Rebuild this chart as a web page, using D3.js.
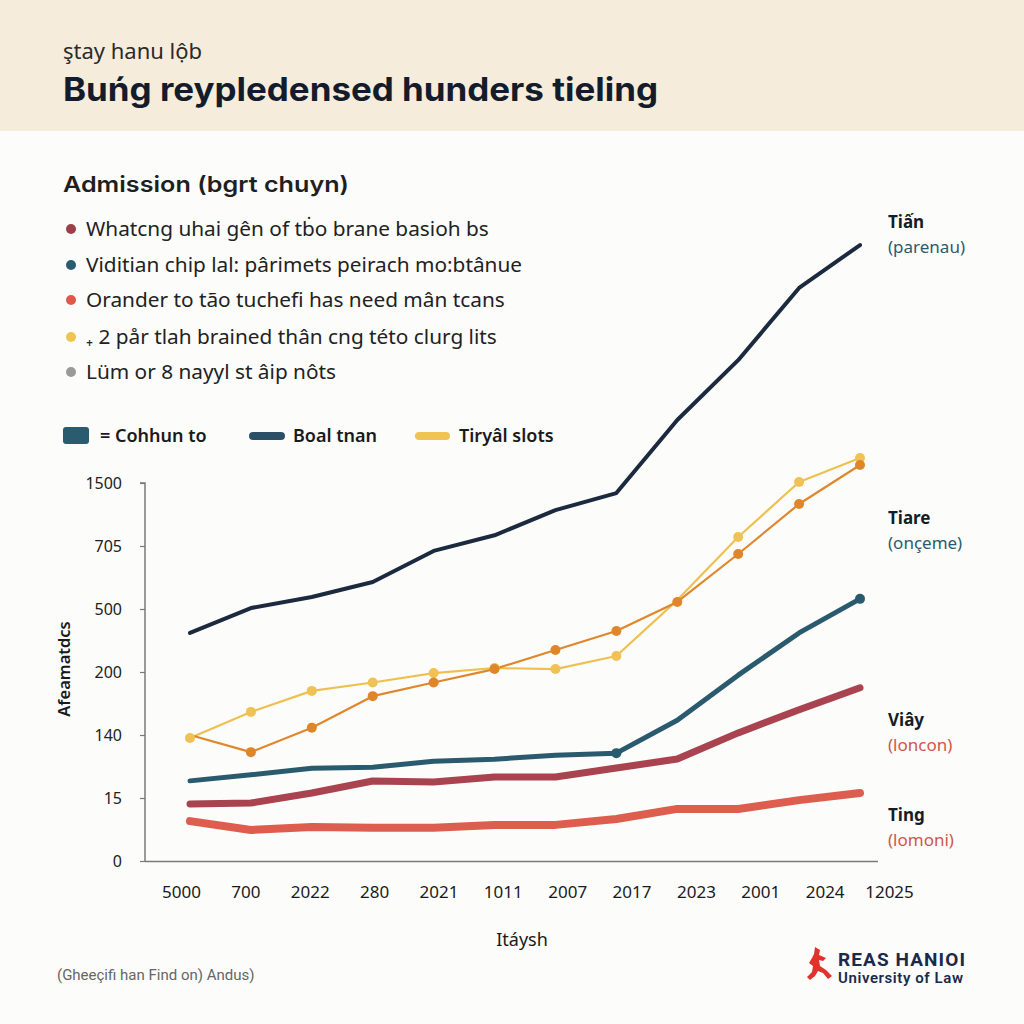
<!DOCTYPE html>
<html><head><meta charset="utf-8">
<script src="https://cdn.jsdelivr.net/npm/d3@7"></script>
<style>
html,body{margin:0;padding:0;background:#fcfcfb;}
svg{display:block;font-family:"Noto Sans","Open Sans",sans-serif;}
</style></head>
<body><svg id="c" width="1024" height="1024"></svg>
<script>
// ---- data ----
const categories = ["5000","700","2022","280","2021","1011","2007","2017","2023","2001","2024","12025"];
const yTickValues = [0, 15, 140, 200, 500, 705, 1500];
const seriesTian   = [386, 503, 539, 588, 689, 840, 1158, 1373, 2295, 3050, 3961, 4503];
const seriesYellow = [134, 162, 182, 190, 199, 219, 214, 276, 529, 819, 1513, 1816];
const seriesOrange = [140, 106, 147, 177, 190, 214, 305, 395, 523, 679, 1235, 1727];
const seriesTeal   = [49, 61, 74, 76, 88, 92, 100, 104, 154, 197, 386, 533];
const seriesMaroon = [13.6, 13.8, 24.9, 48.8, 46.7, 56.7, 56.7, 74.5, 92.4, 142, 164, 185];
const seriesRed    = [9.5, 7.4, 8.1, 7.9, 7.9, 8.6, 8.6, 10, 12.4, 12.4, 14.5, 24.9];
const bulletItems = ["Whatcng uhai gên of tḃo brane basioh bs","Viditian chip lal: pârimets peirach mo:btânue","Orander to tão tuchefi has need mân tcans","₊ 2 pår tlah brained thân cng této clurg lits","Lüm or 8 nayyl st âip nôts"];
const legendItems = ["= Cohhun to","Boal tnan","Tiryâl slots"];
const rightLabels = [["Tiấn","(parenau)"],["Tiare","(onçeme)"],["Viây","(loncon)"],["Ting","(lomoni)"]];

const svg = d3.select("#c");
// header band
svg.append("rect").attr("x",0).attr("y",0).attr("width",1024).attr("height",131).attr("fill","#f5ecdc");
svg.append("text").attr("x",63).attr("y",59).attr("font-size",22).attr("fill","#2a2a2a").text("ştay hanu lộb");
svg.append("text").attr("x",63).attr("y",101).attr("font-size",32).attr("font-weight",700).attr("fill","#141c2b")
  .attr("font-family","Inter, Noto Sans, sans-serif").attr("textLength",595).attr("lengthAdjust","spacingAndGlyphs").text("Buńg reypledensed hunders tieling");

svg.append("text").attr("x",63).attr("y",192).attr("font-size",22).attr("font-weight",600).attr("fill","#1f1f1f")
  .attr("font-family","Inter, Noto Sans, sans-serif").attr("textLength",286).attr("lengthAdjust","spacingAndGlyphs").text("Admission (bgrt chuyn)");

const bulletColors = ["#9b3f48","#2b5b6e","#e0584a","#f0c452","#9a9a9a"];
const bulletY = [229,265,300,337,372];
bulletItems.forEach((t,i)=>{
  svg.append("circle").attr("cx",71).attr("cy",bulletY[i]).attr("r",5).attr("fill",bulletColors[i]);
  svg.append("text").attr("x",86).attr("y",bulletY[i]+7).attr("font-size",20.8).attr("fill","#222").text(t);
});

// legend row
svg.append("rect").attr("x",63).attr("y",427).attr("width",26).attr("height",17).attr("rx",3).attr("fill","#2b5b6e");
svg.append("text").attr("x",100).attr("y",442).attr("font-size",18).attr("font-weight",600).attr("fill","#1a1a1a").text(legendItems[0]);
svg.append("line").attr("x1",253).attr("x2",281).attr("y1",436).attr("y2",436).attr("stroke","#2b5066").attr("stroke-width",8).attr("stroke-linecap","round");
svg.append("text").attr("x",293).attr("y",442).attr("font-size",18).attr("font-weight",600).attr("fill","#1a1a1a").text(legendItems[1]);
svg.append("line").attr("x1",419).attr("x2",446).attr("y1",436).attr("y2",436).attr("stroke","#f0c452").attr("stroke-width",8).attr("stroke-linecap","round");
svg.append("text").attr("x",459).attr("y",442).attr("font-size",18).attr("font-weight",600).attr("fill","#1a1a1a").text(legendItems[2]);

// scales
const y = d3.scaleLinear().domain(yTickValues).range(yTickValues.map((d,i)=>861-63*i));
const x = d3.scalePoint().domain(categories).range([190,860]);
const xLab = d3.scalePoint().domain(categories).range([181,889]);

// y axis
const yAxis = svg.append("g").attr("transform","translate(145,0)")
  .call(d3.axisLeft(y).tickValues(yTickValues).tickFormat(d3.format("d")).tickSize(5).tickPadding(18));
yAxis.select(".domain").attr("stroke","#7a7a7a").attr("stroke-width",1.5).attr("d","M-5,483H0V861");
yAxis.selectAll(".tick line").attr("stroke","#7a7a7a").attr("stroke-width",1.2);
yAxis.selectAll(".tick text").attr("font-size",16).attr("fill","#222").attr("font-family","Noto Sans, sans-serif");

// x axis
svg.append("line").attr("x1",145).attr("x2",878).attr("y1",861.5).attr("y2",861.5).attr("stroke","#7a7a7a").attr("stroke-width",1.5);
const xAxis = svg.append("g").attr("transform","translate(0,861)")
  .call(d3.axisBottom(xLab).tickSize(0).tickPadding(25));
xAxis.select(".domain").remove();
xAxis.selectAll(".tick text").attr("font-size",17).attr("fill","#1a1a1a").attr("font-family","Noto Sans, sans-serif");

svg.append("text").attr("x",522).attr("y",946).attr("text-anchor","middle").attr("font-size",18).attr("fill","#1a1a1a").text("Itáysh");
svg.append("text").attr("transform","translate(70,669) rotate(-90)").attr("text-anchor","middle").attr("font-size",16.5).attr("font-weight",600).attr("fill","#1a1a1a").text("Afeamatdcs");

// lines
const line = d3.line().x((d,i)=>x(categories[i])).y(d=>y(d));
function drawLine(data,color,w){
  svg.append("path").datum(data).attr("d",line).attr("fill","none").attr("stroke",color)
    .attr("stroke-width",w).attr("stroke-linejoin","round").attr("stroke-linecap","round");
}
drawLine(seriesRed,"#dd5d4f",8);
drawLine(seriesMaroon,"#a8434f",7);
drawLine(seriesTeal,"#2a5a6d",5);
drawLine(seriesTian,"#1b2a3e",4);
drawLine(seriesYellow,"#efc050",2.2);
drawLine(seriesOrange,"#df872a",2.2);
seriesYellow.forEach((v,i)=>{ if(i!==8) svg.append("circle").attr("cx",x(categories[i])).attr("cy",y(v)).attr("r",5).attr("fill","#f0c255"); });
seriesOrange.forEach((v,i)=>{ if(i>0) svg.append("circle").attr("cx",x(categories[i])).attr("cy",y(v)).attr("r",5).attr("fill","#e0862a"); });
[7,11].forEach(i=>svg.append("circle").attr("cx",x(categories[i])).attr("cy",y(seriesTeal[i])).attr("r",5).attr("fill","#2a5a6d"));

// right labels
const rlY = [222,518,720,815];
const rlColor = ["#2b5b6e","#2b5b6e","#cf574a","#cf574a"];
rightLabels.forEach((p,i)=>{
  svg.append("text").attr("x",888).attr("y",rlY[i]+6).attr("font-size",17).attr("font-weight",700).attr("fill","#151c28").text(p[0]);
  svg.append("text").attr("x",888).attr("y",rlY[i]+31).attr("font-size",17).attr("fill",rlColor[i]).text(p[1]);
});

// footer
svg.append("text").attr("x",57).attr("y",980).attr("font-size",15).attr("fill","#666").attr("font-family","Liberation Sans Narrow, Roboto, sans-serif").text("(Gheeçifi han Find on) Andus)");

// logo
const lg = svg.append("g").attr("transform","translate(806,946)");
lg.append("path").attr("fill","#e0322b").attr("d","M9,1 L14,4 L13,9 L20,12 L17,15 L13,14 L14,20 L20,24 L26,30 L22,33 L17,27 L12,25 L9,30 L4,34 L1,31 L6,26 L7,20 L3,17 L6,12 L8,8 Z");
svg.append("text").attr("x",838).attr("y",966).attr("font-size",19).attr("font-weight",700).attr("fill","#1b2a4a").attr("font-family","Liberation Sans Narrow, Roboto, sans-serif").attr("textLength",127).text("REAS HANIOI");
svg.append("text").attr("x",838).attr("y",983).attr("font-size",15).attr("font-weight",600).attr("fill","#1b2a4a").attr("font-family","Liberation Sans Narrow, Roboto, sans-serif").attr("textLength",125).text("University of Law");
</script></body></html>
